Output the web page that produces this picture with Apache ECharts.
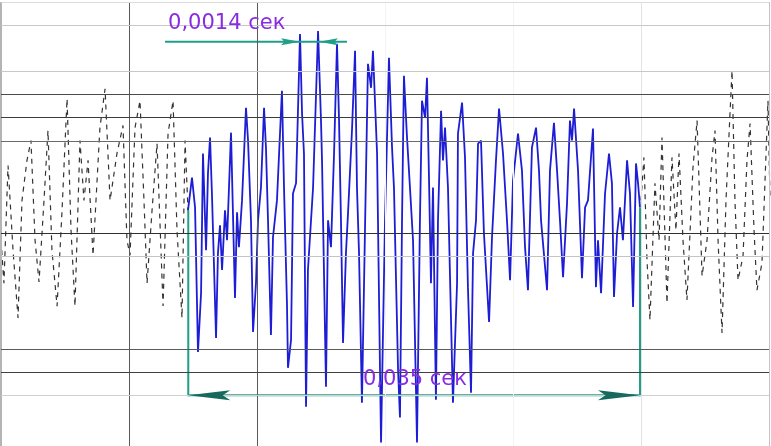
<!DOCTYPE html>
<html>
<head>
<meta charset="utf-8">
<script src="https://cdn.jsdelivr.net/npm/echarts@6/dist/echarts.min.js"></script>
<style>
  html, body { margin: 0; padding: 0; background: #fff; }
  #scope { width: 771px; height: 446px; }
</style>
</head>
<body>
<div id="scope"></div>
<script>
// time in ms, amplitude in screen divisions (0 = centre line)
const noiseLeftT = [0, 0.23, 0.55, 0.94, 1.33, 1.64, 2.03, 2.34, 2.66, 2.97, 3.36, 3.67, 3.98, 4.38, 4.77, 5.16, 5.47, 5.78, 6.17, 6.48, 6.80, 7.19, 7.73, 8.13, 8.52, 9.06, 9.53, 9.84, 10.08, 10.47, 10.86, 11.17, 11.41, 11.80, 12.19, 12.66, 13.05, 13.44, 13.75, 14.14, 14.38, 14.61];
const noiseLeftA = [-0.30, -2.16, 2.93, -0.73, -3.66, 1.42, 3.15, 4.01, -0.30, -2.11, 1.42, 4.44, -0.73, -3.15, 0.99, 5.82, 0.13, -3.15, 4.01, 1.42, 3.15, -0.95, 4.57, 6.25, 1.42, 3.45, 4.66, -0.30, -0.95, 4.57, 5.73, 1.42, -2.16, 0.99, 3.88, -3.15, 4.31, 5.73, 0.13, -3.66, 4.01, 0.99];

const burstT = [14.61, 14.92, 15.16, 15.39, 15.63, 15.78, 16.02, 16.17, 16.33, 16.48, 16.80, 16.95, 17.11, 17.27, 17.50, 17.66, 17.97, 18.28, 18.44, 18.59, 18.83, 19.14, 19.30, 19.53, 19.69, 19.92, 20.08, 20.31, 20.55, 20.70, 20.86, 21.09, 21.25, 21.56, 21.95, 22.11, 22.34, 22.42, 22.66, 22.81, 23.05, 23.36, 23.52, 23.67, 23.83, 23.98, 24.38, 24.77, 25.00, 25.08, 25.39, 25.55, 25.78, 26.02, 26.25, 26.41, 26.56, 26.72, 26.95, 27.11, 27.42, 27.66, 27.81, 27.97, 28.20, 28.44, 28.67, 28.91, 29.06, 29.38, 29.61, 29.69, 30.00, 30.31, 30.55, 30.70, 31.02, 31.17, 31.33, 31.48, 31.72, 31.95, 32.19, 32.50, 32.73, 32.89, 33.13, 33.28, 33.44, 33.59, 33.75, 33.98, 34.14, 34.38, 34.53, 34.69, 34.92, 35.08, 35.31, 35.63, 35.70, 36.02, 36.25, 36.48, 36.72, 36.88, 37.11, 37.27, 37.50, 37.73, 38.13, 38.36, 38.67, 38.91, 39.22, 39.53, 39.77, 40.00, 40.39, 40.70, 40.94, 41.17, 41.48, 41.80, 42.03, 42.19, 42.66, 42.89, 43.20, 43.44, 43.67, 43.91, 44.22, 44.45, 44.61, 44.77, 45.08, 45.39, 45.63, 45.86, 46.25, 46.48, 46.64, 46.88, 47.19, 47.50, 47.73, 47.89, 48.13, 48.36, 48.59, 48.91, 49.14, 49.38, 49.61, 49.77, 49.92];
const burstA = [0.99, 2.41, 1.12, -5.13, -2.59, 3.45, -0.73, 2.59, 4.14, 1.72, -4.53, -0.86, 0.34, -1.59, 0.99, -0.30, 4.35, -2.80, 0.91, -0.60, 1.42, 5.43, 4.01, 0.56, -4.27, -2.16, 0.56, 1.98, 5.43, 3.71, 0.56, -4.40, -0.17, 1.42, 6.16, 1.98, -3.02, -5.82, -4.61, 1.72, 2.16, 8.62, 5.17, 3.45, -7.50, -1.59, 1.98, 8.75, 4.87, 3.15, -6.64, 0.56, -0.60, 3.45, 8.19, 4.87, 0.56, -4.74, -0.86, 0.86, 4.44, 7.89, 1.98, -0.86, -7.33, 0.26, 7.33, 6.29, 7.89, 3.45, -5.91, -9.05, 0.56, 7.59, 3.71, 1.98, -5.91, -7.97, 0.56, 6.81, 4.14, 1.98, -0.30, -9.05, 0.56, 5.73, 5.00, 6.72, 2.28, -2.16, 1.98, -7.20, 0.56, 5.30, 3.15, 4.57, 1.98, -1.90, -7.33, -2.16, 4.31, 5.65, 3.28, -2.33, -6.90, -0.86, 0.56, 3.88, 4.01, 0, -3.84, -0.17, 3.15, 5.39, 3.45, 0.56, -2.03, 2.28, 4.31, 2.72, -0.60, -2.46, 3.71, 4.57, 2.72, 0.56, -2.46, 2.72, 4.78, 2.72, 0.56, -1.90, 1.29, 4.87, 4.01, 5.39, 2.72, -1.94, 1.12, 1.42, 4.53, -2.33, -0.30, -2.59, 1.72, 3.45, 2.16, -2.76, 0, 1.12, -0.30, 3.15, 1.72, -3.19, 3.02, 2.16, 1.12];

const noiseRightT = [50.00, 50.23, 50.47, 50.70, 51.09, 51.41, 51.64, 52.03, 52.42, 52.73, 52.97, 53.28, 53.59, 54.06, 54.38, 54.77, 55.16, 55.55, 55.78, 56.02, 56.33, 56.64, 56.88, 57.11, 57.34, 57.58, 57.97, 58.28, 58.52, 58.83, 59.06, 59.45, 59.69, 59.92, 60.08];
const noiseRightA = [1.42, 3.28, -1.16, -3.75, 2.16, -0.30, 4.14, -3.02, 3.28, 0.13, 3.45, -0.30, -2.89, 2.84, 4.87, -1.85, -0.30, 3.28, 4.44, -0.30, -4.31, 1.42, 4.31, 7.03, 1.42, -2.03, -0.99, 3.15, 4.74, 0.13, -2.46, -1.29, 2.28, 5.73, 1.42];

// screen graticule
const timeDivs = [0, 10, 20, 30, 40, 50, 60];
const ampDivs = [10, 9, 7, 6, 5, 4, 0, -1, -5, -6, -7];

// dimension annotations: [t1, a1, t2, a2], arrow tips [t, a, direction], labels [t, a, text]
const dimSegments = [[12.81, 8.28, 27.03, 8.28], [14.63, -7, 49.92, -7], [14.63, 1.0, 14.63, -7.05], [49.92, 1.12, 49.92, -7.05]];
const dimArrows = [[23.36, 8.28, 1], [24.84, 8.28, -1], [14.63, -7, -1], [49.92, -7, 1]];
const dimLabels = [[13.05, 9.05, '0,0014 сек'], [28.28, -6.34, '0,035 сек']];

const timeDivColors = ['#b4b4b4', '#5a5a5a', '#5a5a5a', '#f3f3f3', '#f3f3f3', '#e2e2e2', '#c4c4c4'];
const ampDivColors = ['#dcdcdc', '#c8c8c8', '#c8c8c8', '#4a4a4a', '#3c3c3c', '#6a6a6a', '#303030', '#c4c4c4', '#5a5a5a', '#404040', '#d0d0d0'];

const zip = (t, a) => t.map((v, i) => [v, a[i]]);

const graticule = [
    ...timeDivs.map((v, i) => ({ xAxis: v, lineStyle: { color: timeDivColors[i], width: i === 0 ? 2 : 1 } })),
    ...ampDivs.map((v, i) => ({ yAxis: v, lineStyle: { color: ampDivColors[i], width: 1 } }))
];

const noiseStyle = { color: '#333', width: 1.2, type: [5, 5] };

const option = {
    animation: false,
    grid: { left: 1, right: 2, top: 2, bottom: 0 },
    xAxis: {
        type: 'value', min: 0, max: 60, show: false
    },
    yAxis: {
        type: 'value', min: -9.2, max: 10, show: false
    },
    series: [
        {
            name: 'grid',
            type: 'line',
            data: [],
            z: 1,
            markLine: {
                silent: true,
                symbol: 'none',
                label: { show: false },
                lineStyle: { type: 'solid' },
                data: graticule
            }
        },
        {
            name: 'noise-left',
            type: 'line',
            data: zip(noiseLeftT, noiseLeftA),
            showSymbol: false,
            z: 2,
            lineStyle: noiseStyle
        },
        {
            name: 'noise-right',
            type: 'line',
            data: zip(noiseRightT, noiseRightA),
            showSymbol: false,
            z: 2,
            lineStyle: noiseStyle
        },
        {
            name: 'burst',
            type: 'line',
            data: zip(burstT, burstA),
            showSymbol: false,
            clip: false,
            z: 3,
            lineStyle: { color: '#1d1dd6', width: 1.8 }
        },
        {
            name: 'dim-lines',
            type: 'custom',
            z: 4,
            encode: { x: [0, 2], y: [1, 3] },
            data: dimSegments,
            renderItem: (params, api) => {
                const p1 = api.coord([api.value(0), api.value(1)]);
                const p2 = api.coord([api.value(2), api.value(3)]);
                return {
                    type: 'line',
                    shape: { x1: p1[0], y1: p1[1], x2: p2[0], y2: p2[1] },
                    style: { stroke: '#1f9e8a', lineWidth: 2 }
                };
            }
        },
        {
            name: 'dim-arrows',
            type: 'custom',
            z: 5,
            encode: { x: 0, y: 1 },
            data: dimArrows,
            renderItem: (params, api) => {
                const tip = api.coord([api.value(0), api.value(1)]);
                const d = api.value(2);
                const small = params.dataIndex < 2;
                const len = small ? 19 : 42;
                const h = small ? 3.5 : 5;
                const x = tip[0], y = tip[1];
                return {
                    type: 'polygon',
                    shape: {
                        points: [[x, y], [x - d * len, y - h], [x - d * len * 0.82, y], [x - d * len, y + h]]
                    },
                    style: { fill: small ? '#1f9e8a' : '#17695c' }
                };
            }
        },
        {
            name: 'dim-labels',
            type: 'custom',
            z: 6,
            encode: { x: 0, y: 1 },
            data: dimLabels,
            renderItem: (params, api) => {
                const p = api.coord([api.value(0), api.value(1)]);
                return {
                    type: 'text',
                    style: {
                        text: dimLabels[params.dataIndex][2],
                        x: p[0], y: p[1],
                        fill: '#8a2be2',
                        font: '21px "DejaVu Sans"',
                        verticalAlign: 'middle',
                        align: 'left'
                    }
                };
            }
        }
    ]
};

const chart = echarts.init(document.getElementById('scope'));
chart.setOption(option);
window.addEventListener('resize', () => chart.resize());
</script>
</body>
</html>
